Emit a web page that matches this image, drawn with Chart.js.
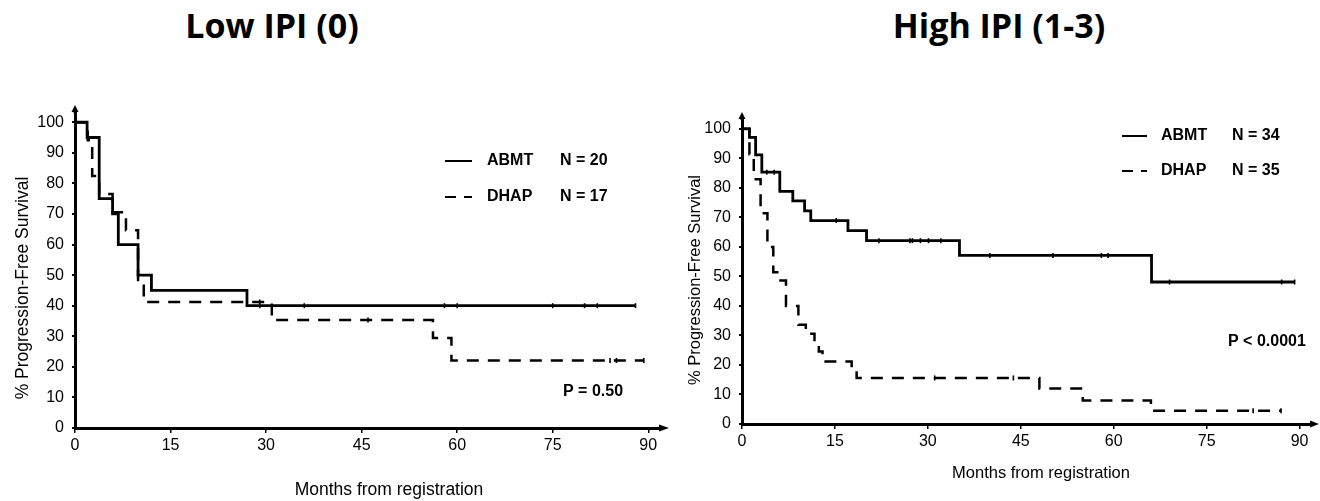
<!DOCTYPE html>
<html>
<head>
<meta charset="utf-8">
<title>Progression-free survival by IPI</title>
<script src="https://cdn.jsdelivr.net/npm/chart.js@4.4.1/dist/chart.umd.min.js"></script>
<style>
  body { margin: 0; background: #fff; width: 1320px; height: 501px; overflow: hidden; position: relative; }
  .panel-title { position: absolute; top: 0; font: bold 34px "Open Sans", sans-serif; color: #000; transform: translateX(-50%); white-space: nowrap; line-height: 50px; }
  canvas { position: absolute; top: 0; }
</style>
</head>
<body>
<div class="panel-title" style="left:272px">Low IPI (0)</div>
<div class="panel-title" style="left:999px">High IPI (1-3)</div>
<canvas id="lowChart" width="680" height="501" style="left:0"></canvas>
<canvas id="highChart" width="640" height="501" style="left:680px"></canvas>
<script>
// tick labels
const monthTicks = [0, 15, 30, 45, 60, 75, 90];
const pfsTicks = [0, 10, 20, 30, 40, 50, 60, 70, 80, 90, 100];

// Low IPI (0) - step points (month where the curve drops, % PFS after the drop)
const lowAbmtMonths = [0, 1.9, 3.8, 5.9, 6.8, 9.9, 12, 27, 88];
const lowAbmtPfs    = [100, 95, 75, 70, 60, 50, 45, 40, 40];
const lowAbmtCensored = [29, 36, 58, 60, 75, 80, 82, 88];

const lowDhapMonths = [0, 2.0, 2.7, 3.8, 5.9, 8.0, 9.9, 10.8, 30.9, 56.2, 59.1, 89.3];
const lowDhapPfs    = [100, 94.1, 82.4, 76.5, 70.6, 64.7, 47.1, 41.2, 35.3, 29.4, 22.1, 22.1];
const lowDhapCensored = [29, 46, 84, 85, 89.3];

// High IPI (1-3)
const highAbmtMonths = [0, 1.2, 2.2, 3.2, 6.1, 8.2, 10.1, 11.1, 17.1, 20.1, 35.1, 66.1, 89.2];
const highAbmtPfs    = [100, 97.1, 91.2, 85.3, 78.8, 75.6, 72.2, 68.9, 65.5, 62.1, 57.1, 48.1, 48.1];
const highAbmtCensored = [4.0, 5.2, 15.2, 22.1, 27.1, 27.5, 28.8, 30.1, 32.1, 40, 50.2, 58, 59.1, 69, 87.1, 89.2];

const highDhapMonths = [0, 1.2, 1.9, 3.0, 4.1, 5.05, 6.0, 7.1, 9.1, 10.3, 11.7, 12.4, 13.0, 17.7, 18.5, 48.0, 55.0, 66.0, 87.0];
const highDhapPfs    = [100, 91.4, 82.9, 71.4, 60, 51.4, 48.6, 40, 33.6, 30.6, 27.8, 24.6, 21.2, 18.4, 15.6, 12.0, 8.0, 4.5, 4.5];
const highDhapCensored = [31.1, 43.8, 82.5, 87];

function toPoints(months, pfs) {
    return months.map((m, i) => ({ x: m, y: pfs[i] }));
}

// censor ticks sit on the curve at the given month
function censorPoints(times, months, pfs) {
    return times.map(t => {
        let k = 0;
        for (let i = 0; i < months.length; i++) {
            if (months[i] <= t) k = i;
        }
        return { x: t, y: pfs[k] };
    });
}

// axis arrows, axis titles, legend and p-value
const kmDecor = {
    id: 'kmDecor',
    afterDraw(chart, args, o) {
        const ctx = chart.ctx;
        const a = chart.chartArea;
        ctx.save();
        ctx.fillStyle = '#000';
        ctx.strokeStyle = '#000';

        // arrow heads
        ctx.beginPath();
        ctx.moveTo(a.left, o.arrowTop);
        ctx.lineTo(a.left - 3.5, a.top + 2);
        ctx.lineTo(a.left + 3.5, a.top + 2);
        ctx.closePath();
        ctx.fill();
        ctx.fillRect(a.left - 1.5, a.top, 3, 3);
        ctx.beginPath();
        ctx.moveTo(o.arrowRight, a.bottom);
        ctx.lineTo(a.right - 2, a.bottom - 3.5);
        ctx.lineTo(a.right - 2, a.bottom + 3.5);
        ctx.closePath();
        ctx.fill();

        // axis titles
        ctx.textBaseline = 'middle';
        ctx.textAlign = 'center';
        ctx.font = o.titleSize + 'px "Liberation Sans", Arial, sans-serif';
        ctx.fillText('Months from registration', o.xTitle[0], o.xTitle[1]);
        ctx.save();
        ctx.translate(o.yTitle[0], o.yTitle[1]);
        ctx.rotate(-Math.PI / 2);
        ctx.fillText('% Progression-Free Survival', 0, 0);
        ctx.restore();

        // legend
        ctx.textAlign = 'left';
        ctx.font = 'bold 16px "Liberation Sans", Arial, sans-serif';
        const lg = o.legend;
        ctx.lineWidth = 2;
        ctx.beginPath();
        ctx.moveTo(lg.x0, lg.y1);
        ctx.lineTo(lg.x1, lg.y1);
        ctx.stroke();
        ctx.setLineDash([11, 8]);
        ctx.beginPath();
        ctx.moveTo(lg.x0, lg.y2);
        ctx.lineTo(lg.x1, lg.y2);
        ctx.stroke();
        ctx.setLineDash([]);
        ctx.fillText('ABMT', lg.tx, lg.y1);
        ctx.fillText(o.nAbmt, lg.nx, lg.y1);
        ctx.fillText('DHAP', lg.tx, lg.y2);
        ctx.fillText(o.nDhap, lg.nx, lg.y2);

        ctx.fillText(o.pText, o.pPos[0], o.pPos[1]);
        ctx.restore();
    }
};

function makeChart(id, abmt, dhap, abmtCens, dhapCens, box, decor) {
    const ctx = document.getElementById(id).getContext('2d');
    return new Chart(ctx, {
        type: 'line',
        data: {
            datasets: [
                {
                    data: abmt,
                    stepped: 'before',
                    borderColor: '#000',
                    borderWidth: 2.8,
                    pointRadius: 0
                },
                {
                    data: dhap,
                    stepped: 'before',
                    borderColor: '#000',
                    borderWidth: 2.5,
                    borderDash: [12, 9],
                    pointRadius: 0
                },
                {
                    data: abmtCens.concat(dhapCens),
                    showLine: false,
                    pointStyle: 'line',
                    pointRotation: 90,
                    pointRadius: 2.5,
                    pointBorderWidth: 1.6,
                    pointBorderColor: '#000'
                }
            ]
        },
        options: {
            responsive: false,
            animation: false,
            events: [],
            layout: { padding: { top: box.top, right: box.right, left: 0, bottom: 0 } },
            plugins: {
                legend: { display: false },
                tooltip: { enabled: false },
                kmDecor: decor
            },
            scales: {
                x: {
                    type: 'linear',
                    min: 0,
                    max: 92,
                    afterBuildTicks: s => { s.ticks = monthTicks.map(v => ({ value: v })); },
                    afterFit: s => { s.height = box.xHeight; },
                    grid: { drawOnChartArea: false, color: '#000', lineWidth: 1.5, tickLength: 5 },
                    border: { color: '#000', width: 3 },
                    ticks: { color: '#000', padding: 3, maxRotation: 0, font: { family: '"Liberation Sans", Arial, sans-serif', size: 16 } }
                },
                y: {
                    type: 'linear',
                    min: 0,
                    max: 104,
                    afterBuildTicks: s => { s.ticks = pfsTicks.map(v => ({ value: v })); },
                    afterFit: s => { s.width = box.yWidth; },
                    grid: { drawOnChartArea: false, color: '#000', lineWidth: 2, tickLength: 3 },
                    border: { color: '#000', width: 3 },
                    ticks: { color: '#000', padding: 8, font: { family: '"Liberation Sans", Arial, sans-serif', size: 16 } }
                }
            }
        },
        plugins: [kmDecor]
    });
}

makeChart('lowChart',
    toPoints(lowAbmtMonths, lowAbmtPfs),
    toPoints(lowDhapMonths, lowDhapPfs),
    censorPoints(lowAbmtCensored, lowAbmtMonths, lowAbmtPfs),
    censorPoints(lowDhapCensored, lowDhapMonths, lowDhapPfs),
    { top: 110, right: 19, xHeight: 73, yWidth: 75 },
    {
        arrowTop: 105, arrowRight: 669, titleSize: 17.5,
        xTitle: [389, 490], yTitle: [23, 288],
        legend: { x0: 445, x1: 472, y1: 161, y2: 197, tx: 487, nx: 560 },
        nAbmt: 'N = 20', nDhap: 'N = 17',
        pText: 'P = 0.50', pPos: [563, 392]
    });

makeChart('highChart',
    toPoints(highAbmtMonths, highAbmtPfs),
    toPoints(highDhapMonths, highDhapPfs),
    censorPoints(highAbmtCensored, highAbmtMonths, highAbmtPfs),
    censorPoints(highDhapCensored, highDhapMonths, highDhapPfs),
    { top: 117, right: 8, xHeight: 77, yWidth: 62 },
    {
        arrowTop: 112, arrowRight: 639, titleSize: 16.5,
        xTitle: [361, 473], yTitle: [15, 280],
        legend: { x0: 442, x1: 467, y1: 136, y2: 171, tx: 481, nx: 552 },
        nAbmt: 'N = 34', nDhap: 'N = 35',
        pText: 'P < 0.0001', pPos: [548, 342]
    });
</script>
</body>
</html>
